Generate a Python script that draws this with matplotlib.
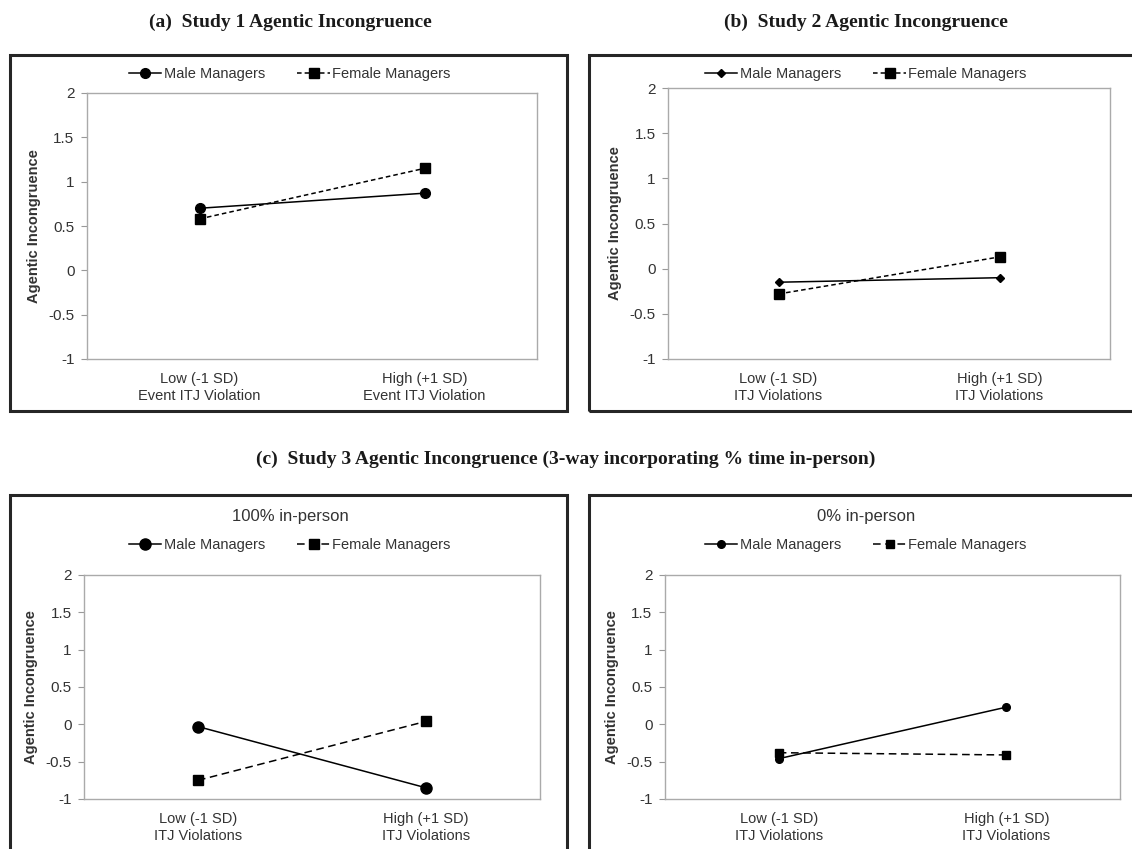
import numpy as np
import matplotlib.pyplot as plt
from matplotlib.patches import Rectangle
from matplotlib.lines import Line2D

W, H = 1132, 849

categories_a = ['Low (-1 SD)\nEvent ITJ Violation', 'High (+1 SD)\nEvent ITJ Violation']
categories_b = ['Low (-1 SD)\nITJ Violations', 'High (+1 SD)\nITJ Violations']

male_a = [0.70, 0.87]
female_a = [0.58, 1.15]
male_b = [-0.15, -0.10]
female_b = [-0.28, 0.13]
male_c100 = [-0.03, -0.85]
female_c100 = [-0.75, 0.04]
male_c0 = [-0.46, 0.23]
female_c0 = [-0.38, -0.41]

yticks = [-1, -0.5, 0, 0.5, 1, 1.5, 2]
ytick_labels = ['-1', '-0.5', '0', '0.5', '1', '1.5', '2']

plt.rcParams['font.family'] = ['Liberation Sans', 'DejaVu Sans']
fig = plt.figure(figsize=(W / 100, H / 100), dpi=100)


def px_rect(x0, y0, x1, y1):
    # pixel box (top-left origin) -> figure fraction [l, b, w, h]
    return [x0 / W, 1 - y1 / H, (x1 - x0) / W, (y1 - y0) / H]


def frame(x0, y0, x1, y1):
    l, b, w, h = px_rect(x0, y0, x1, y1)
    fig.patches.append(Rectangle((l, b), w, h, transform=fig.transFigure,
                                 fill=False, edgecolor='#262626', linewidth=2.2))


def panel(box, center_x, male, female, cats, male_marker, male_ms, fem_ms, dash,
          legend_y, subtitle=None, subtitle_y=None):
    ax = fig.add_axes(px_rect(*box))
    x = np.arange(len(cats))
    ax.plot(x, male, color='black', linewidth=1.1, marker=male_marker,
            markersize=male_ms, label='Male Managers')
    ax.plot(x, female, color='black', linewidth=1.1, linestyle=(0, dash),
            marker='s', markersize=fem_ms, label='Female Managers')
    ax.set_xlim(-0.5, 1.5)
    ax.set_ylim(-1, 2)
    ax.set_yticks(yticks)
    ax.set_yticklabels(ytick_labels)
    ax.set_xticks(x)
    ax.set_xticklabels(cats, fontsize=10.5, color='#333333', linespacing=1.3)
    ax.tick_params(axis='y', length=4, color='#999999', labelsize=11, colors='#333333',
                   pad=5)
    ax.tick_params(axis='x', length=0, pad=9)
    for s in ax.spines.values():
        s.set_color('#aaaaaa')
        s.set_linewidth(1.0)
    ax.set_ylabel('Agentic Incongruence', fontsize=10.5, fontweight='bold',
                  color='#333333', labelpad=5)
    cx = center_x / W
    handles = [
        Line2D([], [], color='black', linewidth=1.1, marker=male_marker, markersize=male_ms),
        Line2D([], [], color='black', linewidth=1.1, linestyle=(0, dash), marker='s',
               markersize=fem_ms),
    ]
    fig.legend(handles, ['Male Managers', 'Female Managers'], loc='center',
               bbox_to_anchor=(cx, 1 - legend_y / H), ncol=2, frameon=False,
               fontsize=10.5, handlelength=2.2, handletextpad=0.2, columnspacing=2.2,
               labelcolor='#333333')
    if subtitle:
        fig.text(cx, 1 - subtitle_y / H, subtitle, ha='center', va='center',
                 fontsize=12, color='#333333')
    return ax


title_kw = dict(ha='center', va='center', fontsize=14, fontweight='bold',
                family=['Liberation Serif', 'DejaVu Serif'], color='#1a1a1a')
fig.text(290 / W, 1 - 22 / H, '(a)  Study 1 Agentic Incongruence', **title_kw)
fig.text(866 / W, 1 - 22 / H, '(b)  Study 2 Agentic Incongruence', **title_kw)
fig.text(566 / W, 1 - 459 / H,
         '(c)  Study 3 Agentic Incongruence (3-way incorporating % time in-person)', **title_kw)

frame(10, 55, 567, 411)
frame(589, 55, 1140, 411)
frame(10, 495, 567, 860)
frame(589, 495, 1140, 860)

panel((87, 93, 537, 359), 290, male_a, female_a, categories_a, 'o', 7, 7, (3, 2), 74)
panel((668, 88, 1110, 359), 866, male_b, female_b, categories_b, 'D', 4.5, 7, (3, 2), 74)
panel((84, 575, 540, 799), 290, male_c100, female_c100, categories_b, 'o', 8, 7.5, (5, 3),
      545, '100% in-person', 516)
panel((665, 575, 1120, 799), 866, male_c0, female_c0, categories_b, 'o', 5.5, 5.5, (5, 3),
      545, '0% in-person', 516)

fig.savefig('out.png', dpi=100)
